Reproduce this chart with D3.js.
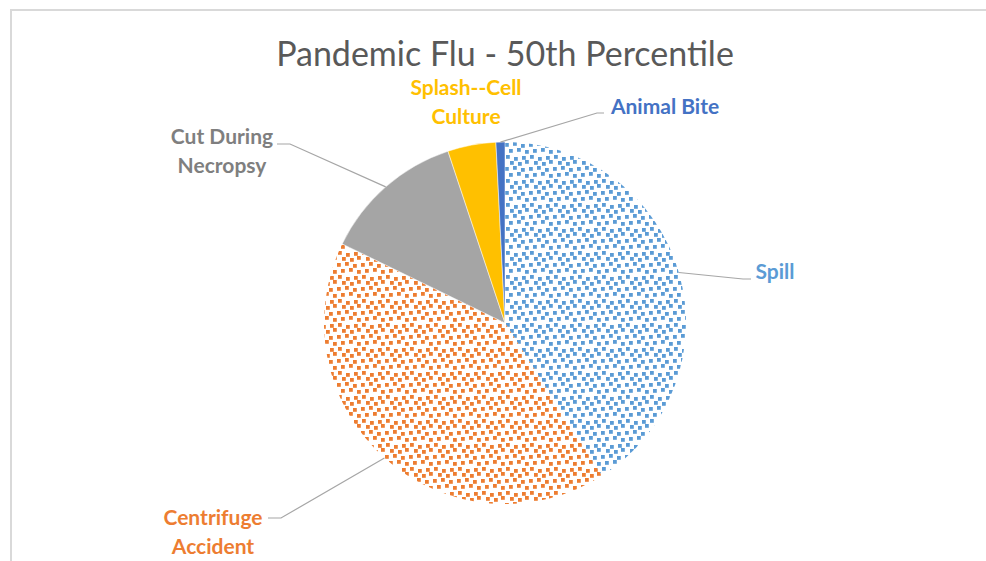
<!DOCTYPE html>
<html lang="en">
<head>
    <meta charset="UTF-8">
    <title>Pandemic Flu - 50th Percentile</title>
    <script src="https://d3js.org/d3.v7.min.js"></script>
</head>
<body>
<div id="chart"></div>
</body>

<style>
    body {
        margin: 0;
        background: #fff;
    }

    text {
        font-family: Lato, "Open Sans", sans-serif;
    }

    .label {
        font-weight: bold;
        font-size: 21px;
    }

    path.leader {
        fill: none;
        stroke: #a6a6a6;
        stroke-width: 1.2px;
    }
</style>

<script>
    // slice order as drawn clockwise from 12 o'clock
    const categories = ['Spill', 'Centrifuge Accident', 'Cut During Necropsy', 'Splash--Cell Culture', 'Animal Bite'];
    const shares = [41.0, 41.2, 12.7, 4.3, 0.8];
    const labelLines = [['Spill'], ['Centrifuge', 'Accident'], ['Cut During', 'Necropsy'], ['Splash--Cell', 'Culture'], ['Animal Bite']];
    const sliceColors = ['#5b9bd5', '#ed7d31', '#a5a5a5', '#ffc000', '#4472c4'];
    const labelColors = ['#5b9bd5', '#ed7d31', '#7f7f7f', '#ffc000', '#4472c4'];
    const patterned = [true, true, false, false, false];

    const width = 986;
    const height = 561;
    const cx = 505, cy = 323, radius = 181;

    // where Excel put each label (centre of text block) and the elbow of its leader line
    const labelPos = [
        {x: 775, y: 272, anchor: 'middle', elbow: [743, 279], end: [751, 279]},
        {x: 213, y: 518, anchor: 'middle', elbow: [281, 518], end: [268, 518]},
        {x: 222, y: 137, anchor: 'middle', elbow: [290, 144], end: [277, 144]},
        {x: 466, y: 88, anchor: 'middle', elbow: null, end: null},
        {x: 665, y: 107, anchor: 'middle', elbow: [597, 113], end: [604, 113]}
    ];

    const svg = d3.select('#chart').append('svg')
        .attr('width', width)
        .attr('height', height);

    // chart frame
    svg.append('rect')
        .attr('x', 11)
        .attr('y', 10)
        .attr('width', width + 10)
        .attr('height', height + 10)
        .attr('fill', 'none')
        .attr('stroke', '#d9d9d9')
        .attr('stroke-width', 2);

    // small confetti fill: a 24px tile with scattered squares
    const defs = svg.append('defs');
    const dots = [
        [1, 0], [9, 2], [17, 1],
        [5, 6], [13, 7], [20, 5],
        [0, 12], [8, 11], [16, 13],
        [4, 18], [12, 17], [20, 19]
    ];
    categories.forEach((c, i) => {
        if (!patterned[i]) return;
        const p = defs.append('pattern')
            .attr('id', 'confetti' + i)
            .attr('patternUnits', 'userSpaceOnUse')
            .attr('width', 24)
            .attr('height', 24);
        p.selectAll('rect')
            .data(dots)
            .join('rect')
            .attr('x', d => d[0])
            .attr('y', d => d[1])
            .attr('width', 3.8)
            .attr('height', 3.8)
            .attr('fill', sliceColors[i]);
    });

    svg.append('text')
        .attr('x', cx)
        .attr('y', 66)
        .attr('text-anchor', 'middle')
        .attr('fill', '#595959')
        .style('font-size', '34px')
        .text('Pandemic Flu - 50th Percentile');

    const data = categories.map((c, i) => ({name: c, value: shares[i], i: i}));
    const pie = d3.pie().sort(null).value(d => d.value);
    const arcs = pie(data);
    const arc = d3.arc().innerRadius(0).outerRadius(radius);

    const g = svg.append('g')
        .attr('transform', `translate(${cx},${cy})`);

    g.selectAll('path.slice')
        .data(arcs)
        .join('path')
        .attr('class', 'slice')
        .attr('d', arc)
        .attr('fill', d => patterned[d.data.i] ? `url(#confetti${d.data.i})` : sliceColors[d.data.i])
        .attr('stroke', d => patterned[d.data.i] ? 'none' : '#fff')
        .attr('stroke-width', 0.5);

    // leader lines from slice edge midpoint
    const edge = d => {
        const a = (d.startAngle + d.endAngle) / 2;
        return [cx + radius * Math.sin(a), cy - radius * Math.cos(a)];
    };

    svg.selectAll('path.leader')
        .data(arcs.filter(d => labelPos[d.data.i].elbow))
        .join('path')
        .attr('class', 'leader')
        .attr('d', d => {
            const lp = labelPos[d.data.i];
            return d3.line()([edge(d), lp.elbow, lp.end]);
        });

    const labels = svg.selectAll('text.label')
        .data(arcs)
        .join('text')
        .attr('class', 'label')
        .attr('fill', d => labelColors[d.data.i])
        .attr('text-anchor', d => labelPos[d.data.i].anchor)
        .attr('transform', d => `translate(${labelPos[d.data.i].x},${labelPos[d.data.i].y})`);

    labels.selectAll('tspan')
        .data(d => labelLines[d.data.i])
        .join('tspan')
        .attr('x', 0)
        .attr('dy', (d, j) => j === 0 ? '0.35em' : 29)
        .text(d => d);
</script>
</html>
